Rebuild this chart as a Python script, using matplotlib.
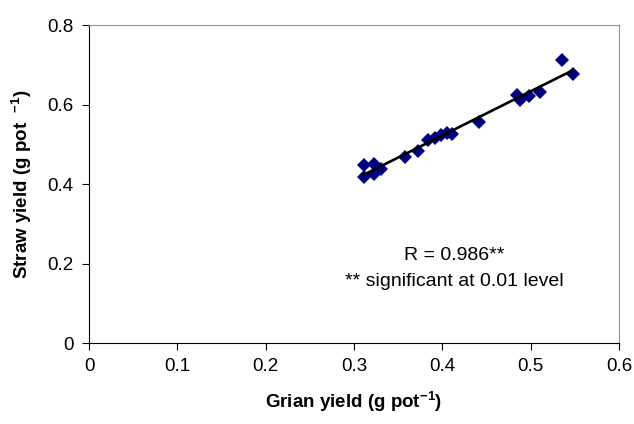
import numpy as np
import matplotlib
matplotlib.use("Agg")
import matplotlib.pyplot as plt

# grain yield vs straw yield (g pot^-1)
grain = [0.311, 0.311, 0.323, 0.323, 0.331, 0.358, 0.373, 0.384, 0.392,
         0.399, 0.405, 0.411, 0.441, 0.484, 0.488, 0.498, 0.511, 0.536, 0.548]
straw = [0.418, 0.448, 0.424, 0.450, 0.439, 0.469, 0.483, 0.511, 0.517,
         0.523, 0.529, 0.526, 0.557, 0.624, 0.611, 0.622, 0.631, 0.712, 0.678]

x_ticks = [0, 0.1, 0.2, 0.3, 0.4, 0.5, 0.6]
x_tick_labels = ["0", "0.1", "0.2", "0.3", "0.4", "0.5", "0.6"]
y_ticks = [0, 0.2, 0.4, 0.6, 0.8]
y_tick_labels = ["0", "0.2", "0.4", "0.6", "0.8"]

plt.rcParams['font.family'] = ['Liberation Sans', 'DejaVu Sans']

fig = plt.figure(figsize=(6.34, 4.24), dpi=100)
ax = fig.add_axes([0.1404, 0.191, 0.8359, 0.750])

ax.plot(grain, straw, linestyle='none', marker='D', markersize=6.8,
        markeredgewidth=0, color='#000080', zorder=3)

# linear trendline
slope, intercept = np.polyfit(grain, straw, 1)
xl = np.array([min(grain), max(grain)])
ax.plot(xl, slope * xl + intercept, color='black', linewidth=1.9, zorder=4)

ax.text(0.414, 0.221, "R = 0.986**", ha='center', va='center', fontsize=14)
ax.text(0.414, 0.154, "** significant at 0.01 level", ha='center', va='center', fontsize=14)

ax.set_xlim(0, 0.6)
ax.set_ylim(0, 0.8)
ax.set_xticks(x_ticks)
ax.set_xticklabels(x_tick_labels)
ax.set_yticks(y_ticks)
ax.set_yticklabels(y_tick_labels)
ax.tick_params(direction='out', length=5, width=0.8, labelsize=13.5, pad=6)

ax.spines['left'].set_color('black')
ax.spines['bottom'].set_color('black')
ax.spines['top'].set_color('#909090')
ax.spines['right'].set_color('#909090')

ax.set_xlabel("Grian yield (g pot$^{\\mathregular{-1}}$)", fontsize=13.5,
              fontweight='bold', labelpad=10)
ax.set_ylabel("Straw yield (g pot  $^{\\mathregular{-1}}$)", fontsize=13.5,
              fontweight='bold', labelpad=10)

fig.savefig("out.png", dpi=100)
